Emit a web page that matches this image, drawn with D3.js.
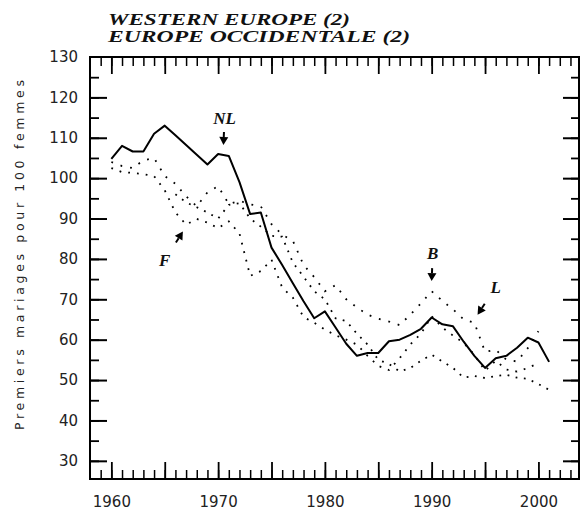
<!DOCTYPE html>
<html><head><meta charset="utf-8">
<script src="https://cdn.jsdelivr.net/npm/d3@7"></script>
<style>body{margin:0;background:#fff}</style>
</head><body>
<svg id="c" width="580" height="515"></svg>
<script>
// ---------- data ----------
const years = [1960,1961,1962,1963,1964,1965,1966,1967,1968,1969,1970,1971,1972,1973,1974,1975,1976,1977,1978,1979,1980,1981,1982,1983,1984,1985,1986,1987,1988,1989,1990,1991,1992,1993,1994,1995,1996,1997,1998,1999,2000,2001];
const seriesNL = [104.8,108,106.6,106.6,111,113,110.6,108.2,105.8,103.4,106,105.5,99,91.1,91.5,82.8,78.5,74,69.5,65.3,67,63,59,56,56.7,56.7,59.6,60,61.2,62.7,65.5,63.8,63.3,59.5,56,53,55.4,56,58,60.5,59.3,54.5];
const seriesF  = [102.5,101.5,101.3,101,100.5,97,91.5,88.5,89.9,89,87.6,89.3,86.3,75.8,77,79.8,72.9,70.4,65.6,64.2,62.5,61.1,60,58.8,56,53.5,52.5,55.4,58.8,61.5,65.8,63,61,59.2,56.3,52.3,54.8,52.6,52.1,53,54.2,null];
const seriesB  = [104,103,102.5,104.4,105,100.5,98.6,95.5,93,96.5,98,93.6,94.4,93.5,93,88.6,86,84.5,78.5,75.5,72,73.5,70,68,66.2,65.2,64.5,63.6,66.2,69,72,69.6,67.5,65,64.2,57,57.5,55,54.6,57.9,62.1,null];
const seriesL  = [null,null,null,null,null,null,96,94,92.8,91.5,90,93.4,93.8,90,88,85.7,85.5,79.1,75.6,72,70,65.3,64.6,61.5,58.8,55,54,52.1,53,54.8,56.3,54.6,53,50.6,51,50.5,51,51.3,50.6,50.3,49,47.6];
const yTickLabels = [30,40,50,60,70,80,90,100,110,120,130];
const xTickLabels = [1960,1970,1980,1990,2000];
const titleLines = ["WESTERN EUROPE (2)","EUROPE OCCIDENTALE (2)"];
const yAxisTitle = "Premiers mariages pour 100 femmes";
const annoLabels = ["NL","F","B","L"];
const annoTextYear = [1970.6,1965.0,1990.1,1996.0];
const annoTextVal  = [115,79.7,81.5,73];
const annoTipYear  = [1970.5,1966.7,1990.0,1994.3];
const annoTipVal   = [108.2,86.8,74.5,66.2];

// ---------- scales ----------
const svg = d3.select("#c");
const x = d3.scaleLinear().domain([1958,2003.8]).range([90,579]);
const y = d3.scaleLinear().domain([25.5,130]).range([479,57]);

// frame
svg.append("rect").attr("x",x(1958)).attr("y",y(130))
  .attr("width",x(2003.8)-x(1958)).attr("height",y(25.5)-y(130))
  .attr("fill","none").attr("stroke","#000").attr("stroke-width",2);

const minorYears = d3.range(1959,2004);
const majorYears = d3.range(1960,2004,5);
const minorVals = d3.range(30,130,5);
const majorVals = d3.range(30,131,10);

function styleTicks(g,w){ g.select(".domain").remove(); g.selectAll("line").attr("stroke","#000").attr("stroke-width",w); }

svg.append("g").attr("transform",`translate(0,${y(25.5)})`).call(d3.axisBottom(x).tickValues(minorYears).tickSize(-9).tickFormat("")).call(g=>styleTicks(g,1.5));
svg.append("g").attr("transform",`translate(0,${y(25.5)})`).call(d3.axisBottom(x).tickValues(majorYears).tickSize(-17).tickFormat("")).call(g=>styleTicks(g,1.8));
svg.append("g").attr("transform",`translate(0,${y(130)})`).call(d3.axisTop(x).tickValues(minorYears).tickSize(-9).tickFormat("")).call(g=>styleTicks(g,1.5));
svg.append("g").attr("transform",`translate(0,${y(130)})`).call(d3.axisTop(x).tickValues(majorYears).tickSize(-17).tickFormat("")).call(g=>styleTicks(g,1.8));
svg.append("g").attr("transform",`translate(${x(1958)},0)`).call(d3.axisLeft(y).tickValues(minorVals).tickSize(-9).tickFormat("")).call(g=>styleTicks(g,1.8));
svg.append("g").attr("transform",`translate(${x(1958)},0)`).call(d3.axisLeft(y).tickValues(majorVals.filter(v=>v<130)).tickSize(-17).tickFormat("")).call(g=>styleTicks(g,2));
svg.append("g").attr("transform",`translate(${x(2003.8)},0)`).call(d3.axisRight(y).tickValues(minorVals).tickSize(-8).tickFormat("")).call(g=>styleTicks(g,1.8));
svg.append("g").attr("transform",`translate(${x(2003.8)},0)`).call(d3.axisRight(y).tickValues(majorVals.filter(v=>v<130)).tickSize(-16).tickFormat("")).call(g=>styleTicks(g,2));

// labels
const yl = svg.append("g").attr("transform",`translate(${x(1958)},0)`)
  .call(d3.axisLeft(y).tickValues(yTickLabels).tickSize(0).tickPadding(12).tickFormat(d3.format("d")));
yl.select(".domain").remove();
yl.selectAll("text").attr("font-family","DejaVu Sans").attr("font-size",15).attr("fill","#222");

const xl = svg.append("g").attr("transform",`translate(0,${y(25.5)})`)
  .call(d3.axisBottom(x).tickValues(xTickLabels).tickSize(0).tickPadding(17).tickFormat(d3.format("d")));
xl.select(".domain").remove();
xl.selectAll("text").attr("font-family","DejaVu Sans").attr("font-size",15).attr("fill","#222");

// axis title
svg.append("text").attr("transform",`translate(24,255) rotate(-90)`)
  .attr("text-anchor","middle").attr("font-family","DejaVu Sans").attr("font-size",12.5)
  .attr("textLength",350).attr("lengthAdjust","spacing").attr("fill","#222").text(yAxisTitle);

// title
const tl = [242,302];
titleLines.forEach((t,i)=>{
  svg.append("text").attr("x",108).attr("y",25+i*17).attr("font-family","Liberation Serif")
    .attr("font-weight","bold").attr("font-style","italic").attr("font-size",16)
    .attr("textLength",tl[i]).attr("lengthAdjust","spacingAndGlyphs").attr("fill","#111").text(t);
});

// lines
const line = d3.line().defined(d=>d[1]!=null).x(d=>x(d[0])).y(d=>y(d[1]));
const zip = s => years.map((yr,i)=>[yr,s[i]]);
[seriesF,seriesB,seriesL].forEach((s,i)=>{
  svg.append("path").datum(zip(s)).attr("d",line).attr("fill","none")
    .attr("stroke","#000").attr("stroke-width",1.8)
    .attr("stroke-dasharray",["1.8,7","1.8,8","1.8,6.5"][i]);
});
svg.append("path").datum(zip(seriesNL)).attr("d",line).attr("fill","none")
  .attr("stroke","#000").attr("stroke-width",2).attr("stroke-linejoin","round");

// annotations
annoLabels.forEach((lab,i)=>{
  const tx = x(annoTextYear[i]), ty = y(annoTextVal[i]);
  const px = x(annoTipYear[i]), py = y(annoTipVal[i]);
  svg.append("text").attr("x",tx).attr("y",ty+6).attr("text-anchor","middle")
    .attr("font-family","Liberation Serif").attr("font-weight","bold").attr("font-style","italic")
    .attr("font-size",17).attr("fill","#111").text(lab);
  // arrow
  let dx = px - tx, dy = py - ty; const len = Math.hypot(dx,dy); dx/=len; dy/=len;
  const headL = 8, headW = 4.5, stem = 13;
  const bx = px - dx*headL, by = py - dy*headL;
  svg.append("line").attr("x1",px-dx*stem).attr("y1",py-dy*stem).attr("x2",bx).attr("y2",by)
    .attr("stroke","#000").attr("stroke-width",2);
  svg.append("path").attr("d",`M${px},${py}L${bx-dy*headW},${by+dx*headW}L${bx+dy*headW},${by-dx*headW}Z`).attr("fill","#000");
});
</script>
</body></html>
